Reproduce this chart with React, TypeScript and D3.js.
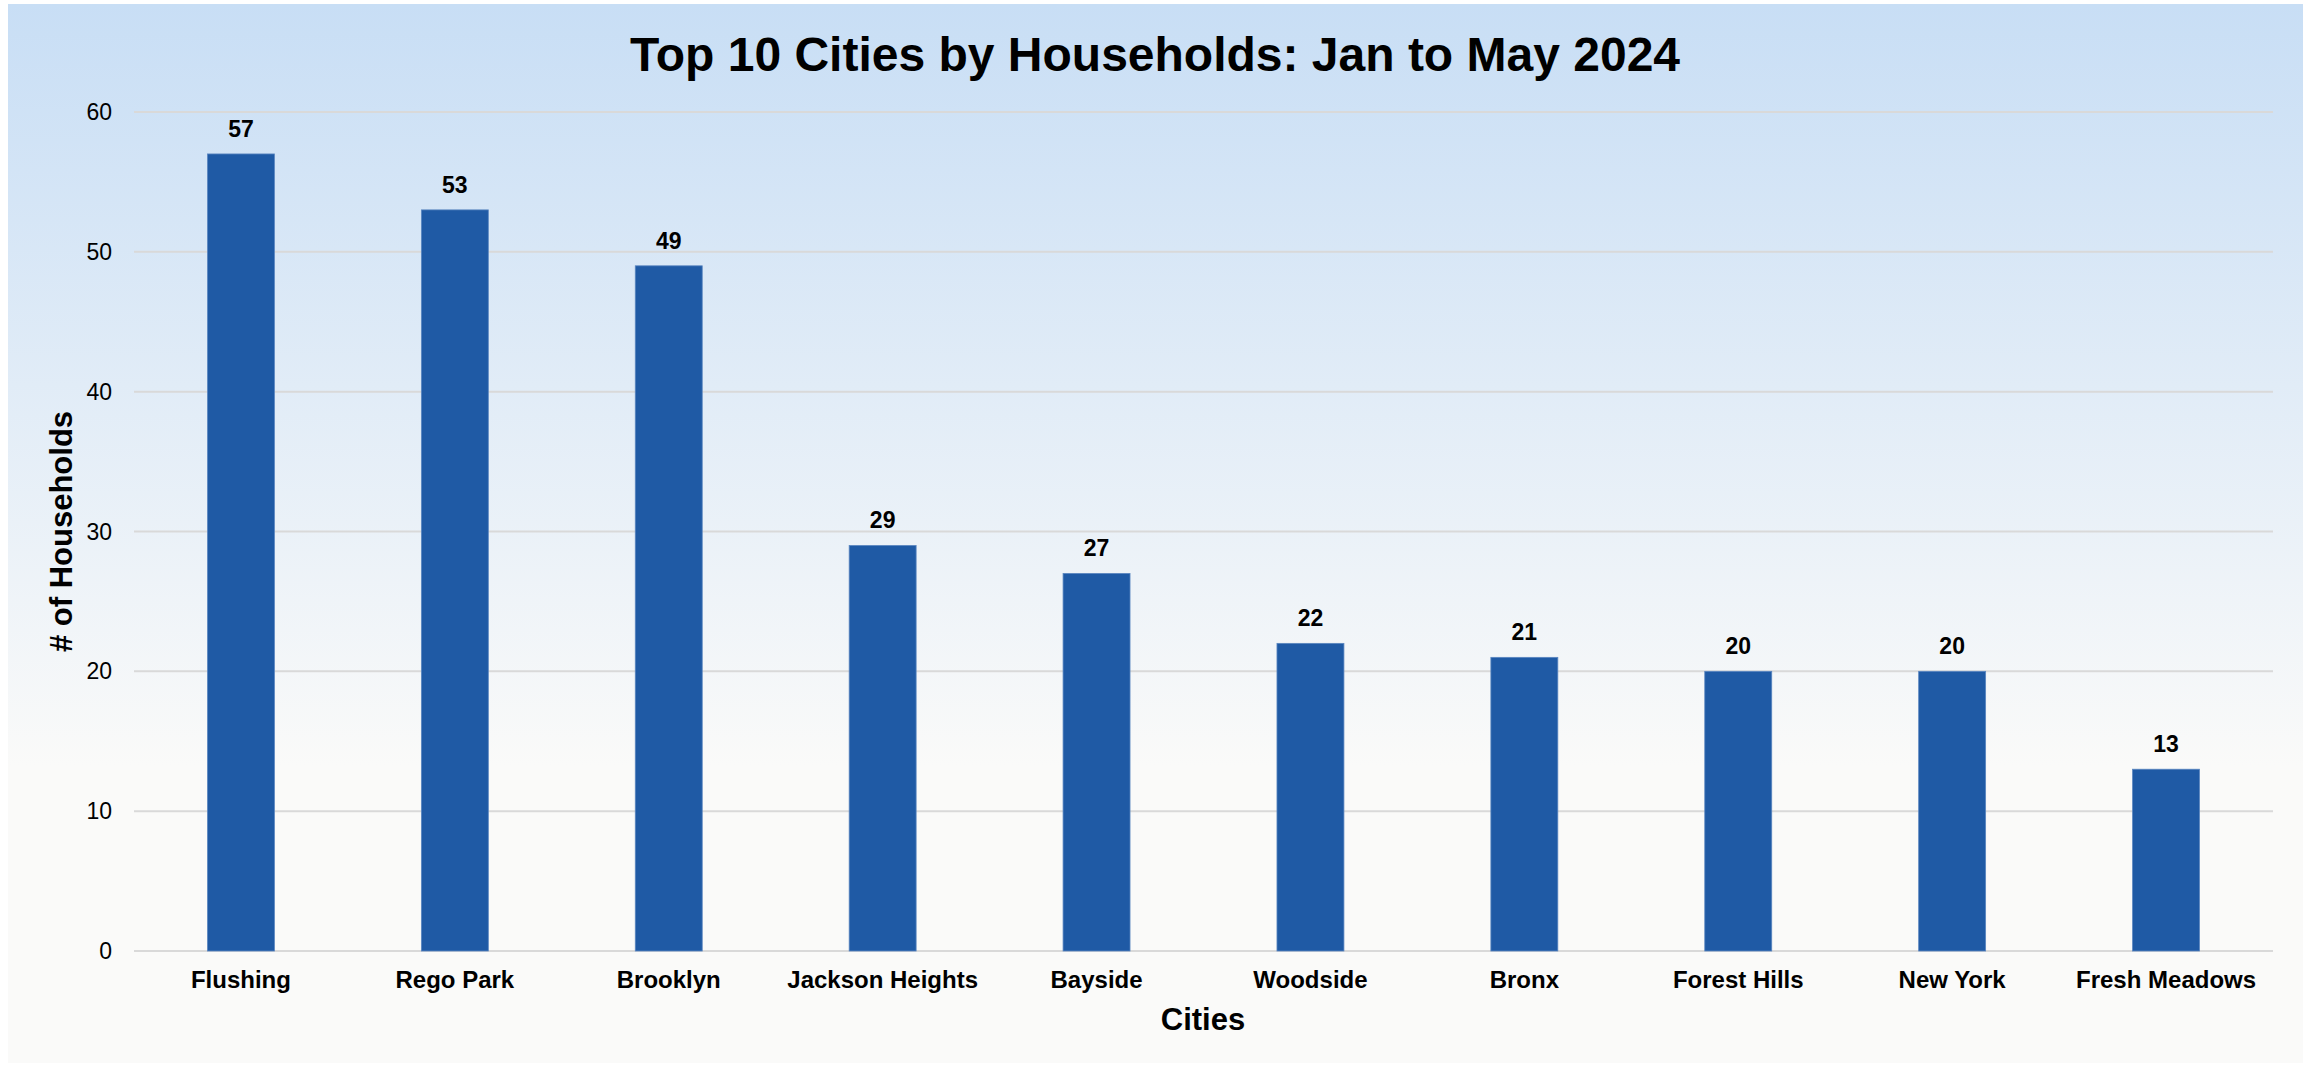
import React from "react";
import * as d3 from "d3";

const cities = ["Flushing", "Rego Park", "Brooklyn", "Jackson Heights", "Bayside", "Woodside", "Bronx", "Forest Hills", "New York", "Fresh Meadows"];
const households = [57, 53, 49, 29, 27, 22, 21, 20, 20, 13];
const yTicks = [0, 10, 20, 30, 40, 50, 60];

const W = 2308;
const H = 1065;
const FONT = "'Liberation Sans', Arial, Helvetica, sans-serif";

export default function App() {
  const left = 134, right = 2273, top = 112, bottom = 951;
  const x = d3.scaleBand<string>().domain(cities).range([left, right]).paddingInner(0.687).paddingOuter(0.3435);
  const y = d3.scaleLinear().domain([0, 60]).range([bottom, top]);

  return (
    <svg width={W} height={H} style={{ position: "absolute", left: 0, top: 0 }} fontFamily={FONT}>
      <defs>
        <linearGradient id="bg" x1="0" y1="0" x2="0" y2="1">
          <stop offset="0%" stopColor="#c8def5" />
          <stop offset="72%" stopColor="#fafaf9" />
          <stop offset="100%" stopColor="#fafaf9" />
        </linearGradient>
      </defs>
      <rect x={0} y={0} width={W} height={H} fill="#ffffff" />
      <rect x={8} y={4} width={2295} height={1059} fill="url(#bg)" />
      <text x={1155} y={71} textAnchor="middle" fontSize={48} fontWeight="bold" fill="#000">
        Top 10 Cities by Households: Jan to May 2024
      </text>
      {yTicks.map((t) => (
        <g key={t}>
          <line x1={left} x2={right} y1={y(t)} y2={y(t)} stroke="#d9d9d9" strokeWidth={2} />
          <text x={112} y={y(t)} dy="0.35em" textAnchor="end" fontSize={23} fill="#000">{t}</text>
        </g>
      ))}
      {cities.map((c, i) => {
        const bx = x(c)!;
        const bw = x.bandwidth();
        const v = households[i];
        return (
          <g key={c}>
            <rect x={bx} y={y(v)} width={bw} height={y(0) - y(v)} fill="#1f5aa5" stroke="#5a86c0" strokeWidth={0.8} />
            <text x={bx + bw / 2} y={y(v) - 17} textAnchor="middle" fontSize={23} fontWeight="bold" fill="#000">{v}</text>
            <text x={bx + bw / 2} y={988} textAnchor="middle" fontSize={24} fontWeight="bold" fill="#000">{c}</text>
          </g>
        );
      })}
      <text x={1203} y={1030} textAnchor="middle" fontSize={31} fontWeight="bold" fill="#000">Cities</text>
      <text transform={`translate(72, ${(top + bottom) / 2}) rotate(-90)`} textAnchor="middle" fontSize={31} fontWeight="bold" fill="#000">
        # of Households
      </text>
    </svg>
  );
}
